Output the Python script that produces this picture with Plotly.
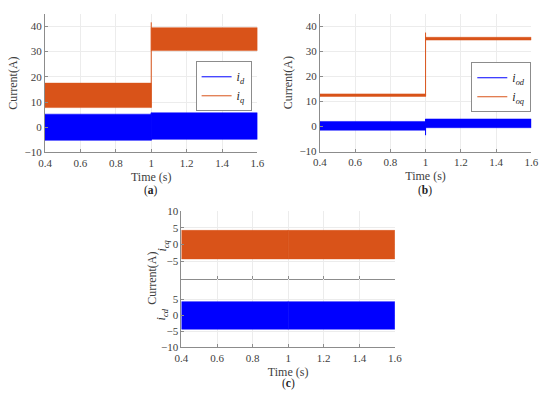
import plotly.graph_objects as go

# envelope values (bands are high-frequency ripple)
t_seg = [0.4, 1.0, 1.6]

# panel (a)
a_id_hi = [5.2, 5.75]
a_id_lo = [-5.2, -4.8]
a_iq_hi = [17.5, 39.5]
a_iq_lo = [7.8, 30.4]
a_iq_step = [7.8, 41.6]
a_id_step = [-5.2, 5.75]

# panel (b)
b_iod_hi = [2.0, 3.0]
b_iod_lo = [-1.5, -0.5]
b_ioq_hi = [13.0, 35.6]
b_ioq_lo = [12.0, 34.5]
b_ioq_step = [12.0, 37.5]
b_iod_step = [-3.5, 3.0]

# panel (c)
c_icq_hi = [4.2, 4.2]
c_icq_lo = [-4.2, -4.2]
c_icd_hi = [4.3, 4.3]
c_icd_lo = [-4.3, -4.3]

x_ticks = [0.4, 0.6, 0.8, 1.0, 1.2, 1.4, 1.6]
x_ticklabels = ['0.4', '0.6', '0.8', '1', '1.2', '1.4', '1.6']

BLUE = '#0000FF'
ORANGE = '#D95319'
FONT = 'Liberation Serif'

fig = go.Figure()


def band(hi, lo, color, xa, ya):
    # one filled polygon per time segment
    for k in range(len(hi)):
        x0, x1 = t_seg[k], t_seg[k + 1]
        fig.add_trace(go.Scatter(
            x=[x0, x1, x1, x0, x0], y=[hi[k], hi[k], lo[k], lo[k], hi[k]],
            fill='toself', fillcolor=color, mode='lines',
            line=dict(color=color, width=0.5), showlegend=False,
            xaxis=xa, yaxis=ya, hoverinfo='skip'))


def step(ys, color, name, xa, ya, legend):
    fig.add_trace(go.Scatter(
        x=[t_seg[1], t_seg[1]], y=ys, mode='lines', name=name,
        line=dict(color=color, width=1), xaxis=xa, yaxis=ya, legend=legend))


# (a)
band(a_iq_hi, a_iq_lo, ORANGE, 'x', 'y')
band(a_id_hi, a_id_lo, BLUE, 'x', 'y')
step(a_id_step, BLUE, '<i>i</i><sub><i>d</i></sub>', 'x', 'y', 'legend')
step(a_iq_step, ORANGE, '<i>i</i><sub><i>q</i></sub>', 'x', 'y', 'legend')

# (b)
band(b_ioq_hi, b_ioq_lo, ORANGE, 'x2', 'y2')
band(b_iod_hi, b_iod_lo, BLUE, 'x2', 'y2')
step(b_iod_step, BLUE, '<i>i</i><sub><i>od</i></sub>', 'x2', 'y2', 'legend2')
step(b_ioq_step, ORANGE, '<i>i</i><sub><i>oq</i></sub>', 'x2', 'y2', 'legend2')

# (c)
band(c_icq_hi, c_icq_lo, ORANGE, 'x3', 'y3')
band(c_icd_hi, c_icd_lo, BLUE, 'x4', 'y4')

axis_common = dict(
    showgrid=True, gridcolor='#ececec', gridwidth=1,
    showline=True, linecolor='#8c8c8c', linewidth=1,
    ticks='inside', ticklen=3, tickcolor='#8c8c8c',
    tickfont=dict(family=FONT, size=11, color='#404040'),
    zeroline=False,
)
xcommon = dict(axis_common, range=[0.4, 1.6], tickvals=x_ticks, ticktext=x_ticklabels)
title_font = dict(family=FONT, size=12, color='#404040')

leg_common = dict(xanchor='right', yanchor='top',
                  bgcolor='white', bordercolor='#8c8c8c', borderwidth=1,
                  font=dict(family=FONT, size=12, color='#222'),
                  tracegroupgap=0, itemwidth=30)

fig.update_layout(
    width=550, height=400,
    margin=dict(l=0, r=0, t=0, b=0),
    paper_bgcolor='white', plot_bgcolor='white',
    font=dict(family=FONT),
    xaxis=dict(xcommon, domain=[39 / 550, 257 / 550], anchor='y',
               title=dict(text='Time (s)', font=title_font, standoff=4)),
    yaxis=dict(axis_common, domain=[1 - 151 / 400, 1 - 8 / 400], anchor='x',
               range=[-10, 45], tickvals=[-10, 0, 10, 20, 30, 40],
               ticktext=['\u221210', '0', '10', '20', '30', '40'],
               title=dict(text='Current(A)', font=title_font, standoff=4)),
    xaxis2=dict(xcommon, domain=[321 / 550, 538 / 550], anchor='y2',
                title=dict(text='Time (s)', font=title_font, standoff=4)),
    yaxis2=dict(axis_common, domain=[1 - 150 / 400, 1 - 8 / 400], anchor='x2',
                range=[-10, 45], tickvals=[-10, 0, 10, 20, 30, 40],
                ticktext=['\u221210', '0', '10', '20', '30', '40'],
                title=dict(text='Current(A)', font=title_font, standoff=4)),
    xaxis3=dict(xcommon, domain=[179 / 550, 398 / 550], anchor='y3',
                showticklabels=False),
    yaxis3=dict(axis_common, domain=[1 - 281 / 400, 1 - 211 / 400], anchor='x3',
                range=[-10, 10], tickvals=[-5, 0, 5, 10],
                ticktext=['\u22125', '0', '5', '10']),
    xaxis4=dict(xcommon, domain=[179 / 550, 398 / 550], anchor='y4',
                title=dict(text='Time (s)', font=title_font, standoff=4)),
    yaxis4=dict(axis_common, domain=[1 - 352 / 400, 1 - 281 / 400], anchor='x4',
                range=[-10, 11.5], tickvals=[-10, -5, 0, 5],
                ticktext=['\u221210', '\u22125', '0', '5']),
    legend=dict(leg_common, x=251 / 550, y=1 - 57 / 400),
    legend2=dict(leg_common, x=538 / 550, y=1 - 58 / 400),
)

cap_font = dict(family=FONT, size=11.5, color='#222')
annotations = [
    dict(text='(<b>a</b>)', x=148 / 550, y=1 - 190 / 400, font=cap_font),
    dict(text='(<b>b</b>)', x=429 / 550, y=1 - 190 / 400, font=cap_font),
    dict(text='(<b>c</b>)', x=289 / 550, y=1 - 389 / 400, font=cap_font),
    dict(text='Current(A)', x=148 / 550, y=1 - 281 / 400, textangle=-90, font=title_font),
    dict(text='<i>i</i><sub><i>cq</i></sub>', x=160 / 550, y=1 - 247 / 400,
         textangle=-90, font=dict(family=FONT, size=12, color='#222')),
    dict(text='<i>i</i><sub><i>cd</i></sub>', x=160 / 550, y=1 - 318 / 400,
         textangle=-90, font=dict(family=FONT, size=12, color='#222')),
]
for a in annotations:
    fig.add_annotation(xref='paper', yref='paper', showarrow=False,
                       xanchor='center', yanchor='middle', **a)

# drop the default body margin so the 550x400 figure fills the window exactly
fig.write_html("out.html", config={'displayModeBar': False},
               post_script="document.body.style.margin='0';")
